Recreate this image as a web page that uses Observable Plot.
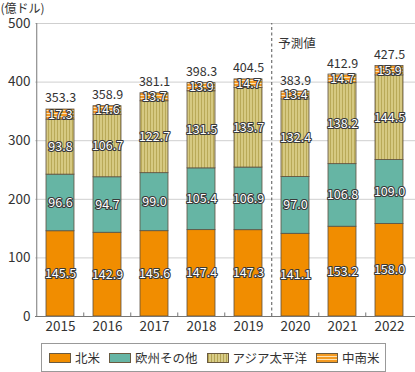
<!DOCTYPE html>
<html><head><meta charset="utf-8">
<script src="https://cdn.jsdelivr.net/npm/d3@7"></script>
<script src="https://cdn.jsdelivr.net/npm/@observablehq/plot@0.6"></script>
<style>
body{margin:0;background:#fff;font-family:"Noto Sans CJK JP","Noto Sans",sans-serif;color:#333;}
#legend{box-sizing:border-box;margin:5px 0 0 41px;width:345px;height:29px;border:1px solid #999;display:flex;align-items:center;padding-left:7px;font-size:12.5px;color:#333;white-space:nowrap;}
.item{display:flex;align-items:center;margin-right:9px;flex-shrink:0;}
.sw{width:22px;height:10px;border:1px solid #6a5a40;margin-right:4px;box-sizing:border-box;flex-shrink:0;}
</style></head><body>
<div id="chart"></div>
<div id="legend"></div>
<script>
const years = ["2015","2016","2017","2018","2019","2020","2021","2022"];
const seriesNames = ["北米","欧州その他","アジア太平洋","中南米"];
const northAmerica = [145.5,142.9,145.6,147.4,147.3,141.1,153.2,158.0];
const europeOther = [96.6,94.7,99.0,105.4,106.9,97.0,106.8,109.0];
const asiaPacific = [93.8,106.7,122.7,131.5,135.7,132.4,138.2,144.5];
const latinAmerica = [17.3,14.6,13.7,13.9,14.7,13.4,14.7,15.9];
const totals = [353.3,358.9,381.1,398.3,404.5,383.9,412.9,427.5];
const yTicks = [0,100,200,300,400,500];
const unitLabel = "(億ドル)";
const forecastLabel = "予測値";
const forecastStart = "2020";

const seriesValues = [northAmerica, europeOther, asiaPacific, latinAmerica];
const data = [];
years.forEach((yr, i) => seriesNames.forEach((s, j) => data.push({year: yr, series: s, value: seriesValues[j][i]})));
const totalData = years.map((yr, i) => ({year: yr, total: totals[i]}));

const W = 415, H = 338, mL = 35, mR = 0, mT = 23, mB = 22;
const padInner = 0.4, padOuter = 0.2;
const step = (W - mL - mR) / (years.length - padInner + 2 * padOuter);
const bw = step * (1 - padInner);

const fills = ["#f18d00", "#66b5a4", "url(#pat-asia)", "url(#pat-latam)"];
const legendBg = ["#f18d00", "#66b5a4",
  "repeating-linear-gradient(90deg,#b4a452 0 1px,#d8cc88 1px 3px)",
  "repeating-linear-gradient(0deg,#f39a22 0 2px,#fde2b4 2px 3px)"];

function defs() {
  const d = d3.create("svg:defs");
  const p1 = d.append("pattern").attr("id","pat-asia").attr("patternUnits","userSpaceOnUse").attr("width",3).attr("height",4);
  p1.append("rect").attr("width",3).attr("height",4).attr("fill","#d6c982");
  p1.append("rect").attr("width",1).attr("height",4).attr("fill","#b9a958");
  const p2 = d.append("pattern").attr("id","pat-latam").attr("patternUnits","userSpaceOnUse").attr("width",4).attr("height",3);
  p2.append("rect").attr("width",4).attr("height",3).attr("fill","#f39a22");
  p2.append("rect").attr("y",2).attr("width",4).attr("height",1).attr("fill","#fde2b4");
  return d.node();
}

const chart = Plot.plot({
  width: W, height: H, marginLeft: mL, marginRight: mR, marginTop: mT, marginBottom: mB,
  style: {fontFamily: '"Noto Sans CJK JP","Noto Sans",sans-serif', color: "#333", background: "#fff", overflow: "visible"},
  x: {domain: years, paddingInner: padInner, paddingOuter: padOuter, label: null},
  y: {domain: [0, 500], label: null},
  color: {type: "ordinal", domain: seriesNames, range: fills},
  marks: [
    defs,
    Plot.gridY(yTicks, {stroke: "#cfcfcf", strokeOpacity: 1}),
    Plot.axisY(yTicks, {tickSize: 0, tickPadding: 5, fontSize: 13.5, label: null}),
    Plot.axisX({tickSize: 0, tickPadding: 5, fontSize: 13.5, label: null}),
    Plot.ruleX([years[0]], {dx: -(bw / 2 + padOuter * step), y1: 0, y2: 500, stroke: "#777"}),
    Plot.ruleX(years.slice(1).filter(d => d !== forecastStart), {dx: -step / 2, y1: 0, y2: 6, stroke: "#777"}),
    Plot.ruleX([forecastStart], {dx: -step / 2, y1: 0, y2: 500, stroke: "#555", strokeDasharray: "3,2.5"}),
    Plot.ruleY([452], {x: forecastStart, insetLeft: -(step - bw) / 2, insetRight: -(step - bw) / 2, stroke: "#555"}),
    Plot.text([forecastLabel], {x: [forecastStart], y: [452], dx: -bw / 2 - 3, dy: -8, textAnchor: "start", fontSize: 12.5, fill: "#333"}),
    Plot.barY(data, Plot.stackY({x: "year", y: "value", z: "series", fill: "series", stroke: "#5c5040", strokeWidth: 0.8})),
    Plot.ruleY([0], {stroke: "#777"}),
    Plot.text(data, Plot.stackY({x: "year", y: "value", z: "series", text: d => d.value.toFixed(1),
      fill: "white", stroke: "#3a3a3a", strokeWidth: 2.2, paintOrder: "stroke", fontSize: 12.5, letterSpacing: -0.3})),
    Plot.ruleY(totalData, {x: "year", y: "total", dy: -3.5, stroke: "#444"}),
    Plot.text(totalData, {x: "year", y: "total", text: d => d.total.toFixed(1), dy: -11, fontSize: 12.5, fill: "#333"}),
    Plot.text([unitLabel], {frameAnchor: "top-left", dx: -mL, dy: -mT + 8.5, textAnchor: "start", lineAnchor: "middle", fontSize: 12, fill: "#333"})
  ]
});
document.getElementById("chart").appendChild(chart);

const lg = document.getElementById("legend");
seriesNames.forEach((s, i) => {
  const it = document.createElement("div"); it.className = "item";
  const sw = document.createElement("span"); sw.className = "sw"; sw.style.background = legendBg[i];
  const t = document.createElement("span"); t.textContent = s;
  it.appendChild(sw); it.appendChild(t); lg.appendChild(it);
});
</script></body></html>
